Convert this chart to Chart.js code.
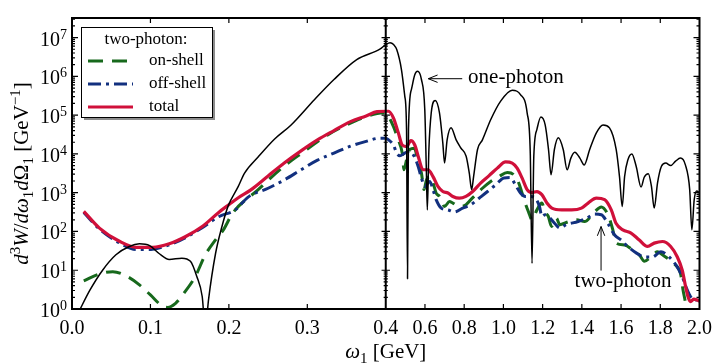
<!DOCTYPE html>
<html>
<head>
<meta charset="utf-8">
<script src="https://cdn.jsdelivr.net/npm/chart.js@4.4.0/dist/chart.umd.min.js"></script>
<style>
  html, body { margin: 0; padding: 0; background: #fff; }
</style>
</head>
<body>
<canvas id="spectrumChart" width="720" height="364"></canvas>
<script>
// omega_1 in GeV, spectra in GeV^-1
var onePhotonW = [0.008,0.023,0.039,0.056,0.073,0.086,0.099,0.111,0.124,0.140,0.151,0.159,0.166,0.170,0.174,0.183,0.191,0.199,0.212,0.220,0.237,0.258,0.279,0.309,0.334,0.363,0.393,0.400,0.422,0.440,0.456,0.480,0.497,0.506,0.511,0.516,0.531,0.548,0.562,0.582,0.599,0.607,0.612,0.620,0.632,0.652,0.674,0.691,0.700,0.713,0.733,0.759,0.784,0.810,0.826,0.838,0.848,0.868,0.893,0.935,0.986,1.045,1.087,1.121,1.137,1.146,1.155,1.171,1.191,1.213,1.230,1.243,1.260,1.280,1.305,1.325,1.344,1.364,1.390,1.412,1.440,1.474,1.508,1.541,1.575,1.592,1.606,1.618,1.635,1.655,1.677,1.702,1.718,1.739,1.755,1.769,1.786,1.806,1.828,1.853,1.878,1.903,1.928,1.950,1.961,1.973,1.986,2.000];
var onePhotonV = [0.8,3.1,10,25,41,48,43,27,19,20.5,17,7,2.1,0.3,1.7,27,130,450,1450,3200,8200,2.4e4,5.5e4,2.5e5,8.3e5,2.7e6,5.1e6,6.6e6,7.4e6,6.6e6,4.9e6,1.5e6,3.1e5,4.3e4,6,4.3e4,4.6e5,1.1e6,1.35e6,8.3e5,1.4e5,3.9e3,360,1.3e4,1.15e5,2.4e5,1.15e5,1.9e4,5.8e3,2.3e4,4.7e4,2.3e4,1.4e4,8.7e3,3.2e3,1.2e3,2.6e3,1.3e4,2.3e4,7.6e4,2.3e5,4.4e5,3.4e5,1.15e5,1.05e4,15,8.7e3,4.3e4,8.9e4,5.6e4,1.3e4,2.9e3,1.3e4,2.6e4,1.3e4,3.9e3,7.8e3,1.1e4,7.8e3,5.2e3,1.3e4,3.5e4,5.6e4,4.7e4,1.3e4,2.6e3,440,2.6e3,7.1e3,1.0e4,4.8e3,1.4e3,2.5e3,3.1e3,1.45e3,400,1.8e3,4.8e3,5.8e3,5.0e3,6.5e3,7.8e3,5.2e3,1.2e3,110,660,1.1e3,1.0e3];

var totalW = [0.015,0.035,0.061,0.082,0.103,0.124,0.145,0.166,0.187,0.200,0.212,0.228,0.250,0.271,0.292,0.313,0.334,0.355,0.375,0.389,0.400,0.414,0.439,0.464,0.484,0.506,0.528,0.548,0.568,0.590,0.616,0.641,0.666,0.691,0.717,0.742,0.775,0.809,0.843,0.885,0.927,0.969,1.011,1.045,1.070,1.095,1.121,1.146,1.171,1.196,1.222,1.247,1.297,1.348,1.398,1.432,1.474,1.516,1.550,1.575,1.609,1.651,1.693,1.735,1.769,1.811,1.853,1.887,1.912,1.929,1.941,1.954,1.971,1.988,2.000];
var totalV = [330,122,55,39,39,48,74,134,310,490,740,1180,2.7e3,5.9e3,1.2e4,2.3e4,4.0e4,6.8e4,9.5e4,1.23e5,1.26e5,1.26e5,8.5e4,3.5e4,1.7e4,1.55e4,2.2e4,1.7e4,7.8e3,3.9e3,3.9e3,2.6e3,1.45e3,1.07e3,980,800,720,800,1.07e3,1.8e3,2.75e3,4.3e3,6.2e3,5.8e3,4.3e3,2.4e3,1.2e3,1.0e3,1.07e3,890,540,400,360,360,400,540,720,660,360,160,110,91,60,41,50,55,41,22,10,3.8,2.1,1.55,1.8,1.7,1.6];

var onShellW = [0.015,0.035,0.052,0.071,0.086,0.100,0.115,0.122,0.132,0.143,0.157,0.170,0.183,0.193,0.205,0.237,0.268,0.293,0.326,0.360,0.389,0.400,0.414,0.439,0.464,0.484,0.493,0.506,0.523,0.545,0.565,0.582,0.595,0.607,0.624,0.641,0.657,0.674,0.700,0.725,0.742,0.775,0.809,0.834,0.860,0.893,0.935,0.977,1.020,1.053,1.078,1.095,1.111,1.128,1.146,1.171,1.196,1.212,1.229,1.245,1.270,1.288,1.320,1.373,1.414,1.465,1.499,1.533,1.558,1.575,1.618,1.660,1.693,1.719,1.752,1.786,1.811,1.845,1.875,1.903,1.916,1.929,1.936];
var onShellV = [5.3,8,9.2,6.8,4.2,2.3,1.2,1.1,1.4,2.6,6.8,25,61,110,300,1180,4400,1.05e4,3.1e4,6.9e4,1.1e5,1.15e5,9.3e4,5.1e4,2.3e4,1.05e4,3.9e3,7.1e3,1.3e4,1.4e4,6.5e3,3.2e3,1.2e3,2.1e3,2.6e3,1.8e3,980,800,440,590,540,440,490,660,890,1.3e3,1.95e3,2.6e3,3.3e3,2.9e3,1.8e3,980,540,320,200,360,540,320,245,135,220,150,170,200,180,320,430,270,110,50,45,33,25,17,22,30,25,19,14,8.3,3.1,1.4,0.8];

var offShellW = [0.015,0.035,0.061,0.082,0.103,0.124,0.145,0.166,0.187,0.208,0.225,0.250,0.271,0.292,0.313,0.334,0.355,0.375,0.392,0.400,0.414,0.439,0.456,0.472,0.497,0.523,0.545,0.565,0.582,0.599,0.624,0.641,0.657,0.683,0.717,0.750,0.792,0.834,0.876,0.919,0.961,1.003,1.036,1.061,1.087,1.112,1.137,1.162,1.184,1.196,1.213,1.238,1.262,1.288,1.320,1.381,1.424,1.466,1.499,1.533,1.567,1.600,1.634,1.677,1.718,1.760,1.803,1.845,1.887,1.912,1.934,1.954,1.971,1.988,2.000];
var offShellV = [310,115,50,34,35,45,70,125,240,360,780,1.3e3,2.15e3,3.9e3,6.9e3,1.05e4,1.58e4,2.1e4,2.55e4,2.55e4,2.3e4,1.7e4,1.05e4,8.9e3,1.05e4,1.15e4,8.7e3,4.8e3,2.4e3,1.45e3,1.95e3,1.2e3,660,400,360,320,400,490,720,1.07e3,1.6e3,2.4e3,2.45e3,1.6e3,980,800,800,720,440,245,270,220,160,123,150,180,220,280,270,160,81,60,41,28,22,22,30,22,12,6.8,3.4,2.1,1.7,1.7,1.6];

var xTickValues = [0.0,0.1,0.2,0.3,0.4,0.6,0.8,1.0,1.2,1.4,1.6,1.8,2.0];
var yTickValues = [1,10,100,1e3,1e4,1e5,1e6,1e7];

// left panel 0-0.4 GeV, right panel 0.4-2.0 GeV squeezed into the same width
function toAxis(w) { return w <= 0.4 ? w : 0.4 + (w - 0.4) / 4; }
function toOmega(u) { return u <= 0.4 ? u : 0.4 + (u - 0.4) * 4; }
function points(ws, vs) { return ws.map(function (w, i) { return { x: toAxis(w), y: vs[i] }; }); }

var SERIF = '"Liberation Serif", "DejaVu Serif", serif';

// little rich-text helper for the axis titles
function partFont(p) {
  if (p.s) return '15px ' + SERIF;
  return (p.i ? 'italic ' : '') + '21px ' + SERIF;
}
function partShift(p) { return p.s === 'sup' ? -8 : (p.s === 'sub' ? 5 : 0); }
function richWidth(ctx, parts) {
  var w = 0;
  parts.forEach(function (p) { ctx.font = partFont(p); w += ctx.measureText(p.t).width; });
  return w;
}
function drawRich(ctx, parts, x, y) {
  parts.forEach(function (p) {
    ctx.font = partFont(p);
    ctx.fillText(p.t, x, y + partShift(p));
    x += ctx.measureText(p.t).width;
  });
}
var yTitle = [{t:'d',i:1},{t:'3',s:'sup'},{t:'W',i:1},{t:'/'},{t:'d',i:1},{t:'\u03c9',i:1},{t:'1',s:'sub'},{t:'d',i:1},{t:'\u03a9'},{t:'1',s:'sub'},{t:' [GeV'},{t:'\u22121',s:'sup'},{t:']'}];
var xTitle = [{t:'\u03c9',i:1},{t:'1',s:'sub'},{t:' [GeV]'}];

function arrow(ctx, x1, y1, x2, y2) {
  var a = Math.atan2(y2 - y1, x2 - x1), h = 10, s = 0.38;
  ctx.beginPath();
  ctx.moveTo(x1, y1); ctx.lineTo(x2, y2);
  ctx.moveTo(x2 - h * Math.cos(a - s), y2 - h * Math.sin(a - s));
  ctx.lineTo(x2, y2);
  ctx.lineTo(x2 - h * Math.cos(a + s), y2 - h * Math.sin(a + s));
  ctx.stroke();
}

var decorations = {
  id: 'decorations',
  afterDatasetsDraw: function (chart) {
    var ctx = chart.ctx, a = chart.chartArea, xs = chart.scales.x, ys = chart.scales.y;
    var xm = xs.getPixelForValue(0.4);
    ctx.save();
    ctx.strokeStyle = '#000';
    ctx.fillStyle = '#000';

    // inward ticks
    ctx.lineWidth = 1.2;
    ctx.beginPath();
    for (var d = 0; d <= 7; d++) {
      for (var m = 1; m <= 9; m++) {
        var v = m * Math.pow(10, d);
        if (v >= ys.max) break;
        var y = ys.getPixelForValue(v), len = m === 1 ? 6 : 3;
        ctx.moveTo(a.left, y); ctx.lineTo(a.left + len, y);
        ctx.moveTo(a.right, y); ctx.lineTo(a.right - len, y);
        ctx.moveTo(xm - len * 0.7, y); ctx.lineTo(xm + len * 0.7, y);
      }
    }
    xTickValues.forEach(function (w) {
      var u = toAxis(w);
      if (u <= 0 || u >= 0.8 || u === 0.4) return;
      var x = xs.getPixelForValue(u);
      ctx.moveTo(x, a.bottom); ctx.lineTo(x, a.bottom - 5);
      ctx.moveTo(x, a.top); ctx.lineTo(x, a.top + 5);
    });
    ctx.stroke();

    // frame and panel divider
    ctx.lineWidth = 2;
    ctx.strokeRect(a.left, a.top, a.right - a.left, a.bottom - a.top);
    ctx.beginPath();
    ctx.moveTo(xm, a.top); ctx.lineTo(xm, a.bottom);
    ctx.stroke();

    // y tick labels 10^n with a real superscript
    ctx.textBaseline = 'alphabetic';
    ctx.textAlign = 'left';
    yTickValues.forEach(function (v) {
      var y = ys.getPixelForValue(v), e = String(Math.round(Math.log10(v)));
      ctx.font = '14px ' + SERIF;
      var ew = ctx.measureText(e).width;
      ctx.font = '20px ' + SERIF;
      var bw = ctx.measureText('10').width;
      var x0 = a.left - 5 - ew - bw;
      ctx.fillText('10', x0, y + 8);
      ctx.font = '14px ' + SERIF;
      ctx.fillText(e, x0 + bw, y + 1);
    });

    // annotations
    ctx.lineWidth = 1;
    var px = function (w) { return xs.getPixelForValue(toAxis(w)); };
    var py = function (v) { return ys.getPixelForValue(v); };
    arrow(ctx, px(0.79), py(8.7e5), px(0.617), py(8.7e5));
    arrow(ctx, px(1.498), py(9.8), px(1.498), py(134));
    ctx.font = '21px ' + SERIF;
    ctx.textBaseline = 'middle';
    ctx.textAlign = 'left';
    ctx.fillText('one-photon', px(0.82), py(8.7e5) - 1);
    ctx.textAlign = 'center';
    ctx.fillText('two-photon', px(1.61), py(5.0));

    // legend box
    var bx = 81, by = 27, bw = 131, bh = 90;
    ctx.fillStyle = '#8c8c8c';
    ctx.fillRect(bx + 3, by + 3, bw, bh);
    ctx.fillStyle = '#fff';
    ctx.fillRect(bx, by, bw, bh);
    ctx.strokeStyle = '#000';
    ctx.lineWidth = 1;
    ctx.strokeRect(bx + 0.5, by + 0.5, bw, bh);
    ctx.fillStyle = '#000';
    ctx.font = '17px ' + SERIF;
    ctx.textAlign = 'center';
    ctx.fillText('two-photon:', bx + 65, by + 13);
    ctx.textAlign = 'left';
    [3, 2, 1].forEach(function (k, i) {
      var ds = chart.data.datasets[k], y = by + 34 + i * 23;
      ctx.strokeStyle = ds.borderColor;
      ctx.lineWidth = ds.borderWidth;
      ctx.setLineDash(ds.borderDash || []);
      ctx.beginPath();
      ctx.moveTo(bx + 7, y); ctx.lineTo(bx + 52, y);
      ctx.stroke();
      ctx.setLineDash([]);
      ctx.fillText(ds.label, bx + 68, y);
    });

    // axis titles
    ctx.fillStyle = '#000';
    ctx.textBaseline = 'alphabetic';
    ctx.textAlign = 'left';
    var xw = richWidth(ctx, xTitle);
    drawRich(ctx, xTitle, (a.left + a.right) / 2 - xw / 2, 358);
    var yw = richWidth(ctx, yTitle);
    ctx.translate(28, (a.top + a.bottom) / 2 + 10);
    ctx.rotate(-Math.PI / 2);
    drawRich(ctx, yTitle, -yw / 2, 0);
    ctx.restore();
  }
};

var chartArea = document.getElementById('spectrumChart').getContext('2d');
var myChart = new Chart(chartArea, {
  type: 'line',
  data: {
    datasets: [{
      label: 'one-photon',
      data: points(onePhotonW, onePhotonV),
      borderColor: '#000',
      borderWidth: 1.5
    }, {
      label: 'total',
      data: points(totalW, totalV),
      borderColor: '#d0103a',
      borderWidth: 3.2
    }, {
      label: 'off-shell',
      data: points(offShellW, offShellV),
      borderColor: '#12307f',
      borderWidth: 3,
      borderDash: [13, 5, 3, 5]
    }, {
      label: 'on-shell',
      data: points(onShellW, onShellV),
      borderColor: '#17691c',
      borderWidth: 3,
      borderDash: [15, 9]
    }]
  },
  options: {
    responsive: false,
    animation: false,
    elements: {
      point: { radius: 0 },
      line: { cubicInterpolationMode: 'monotone', borderJoinStyle: 'round', fill: false }
    },
    layout: { padding: { left: 0, right: 14, top: 18, bottom: 0 } },
    plugins: {
      legend: { display: false },
      tooltip: { enabled: false },
      title: { display: false }
    },
    scales: {
      x: {
        type: 'linear',
        min: 0,
        max: 0.8,
        afterBuildTicks: function (s) { s.ticks = xTickValues.map(function (w) { return { value: toAxis(w) }; }); },
        afterFit: function (s) { s.height = 55; },
        grid: { display: false, drawTicks: false },
        border: { display: false },
        ticks: {
          autoSkip: false,
          maxRotation: 0,
          padding: 8,
          color: '#000',
          font: { family: SERIF, size: 20 },
          callback: function (v) { return toOmega(v).toFixed(1); }
        }
      },
      y: {
        type: 'logarithmic',
        min: 1,
        max: 3.2e7,
        afterBuildTicks: function (s) { s.ticks = yTickValues.map(function (v) { return { value: v }; }); },
        afterFit: function (s) { s.width = 72; },
        grid: { display: false, drawTicks: false },
        border: { display: false },
        ticks: { display: false }
      }
    }
  },
  plugins: [decorations]
});
</script>
</body>
</html>
